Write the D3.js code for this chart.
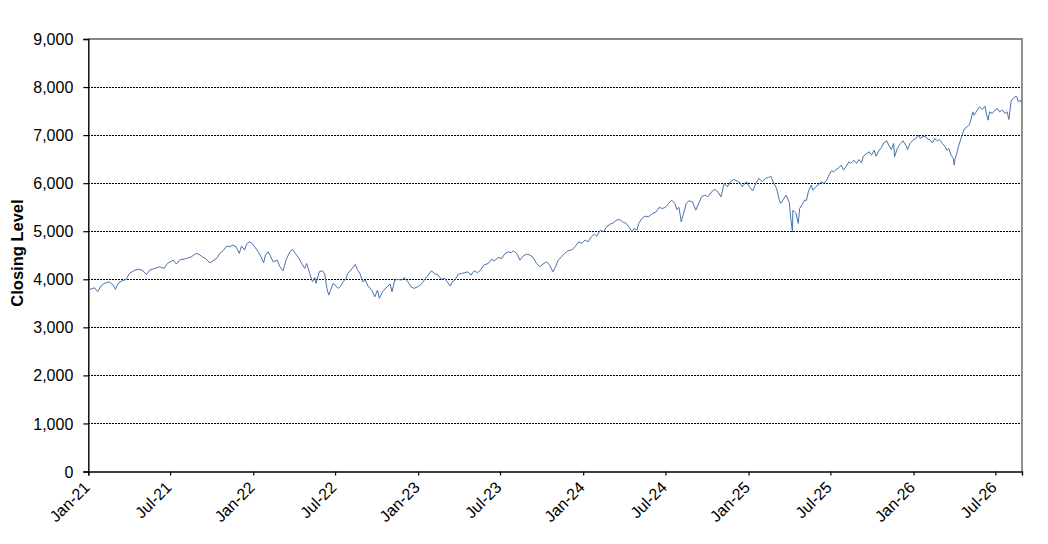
<!DOCTYPE html>
<html>
<head>
<meta charset="utf-8">
<script src="https://cdn.jsdelivr.net/npm/d3@7"></script>
<style>
    body { margin: 0; background: #fff; }
    svg { display: block; font-family: "Liberation Sans", Arial, sans-serif; }
</style>
</head>
<body>
<div id="chart"></div>
<script>
// weekly-ish closing levels, one array per year
var close2021 = [
    ["2021-01-04",3790],["2021-01-08",3800],["2021-01-15",3823],["2021-01-22",3740],["2021-01-29",3860],
    ["2021-02-05",3914],["2021-02-16",3948],["2021-02-25",3879],["2021-03-02",3790],["2021-03-08",3914],
    ["2021-03-15",3962],["2021-03-26",3997],["2021-04-02",4122],["2021-04-14",4191],["2021-04-23",4205],
    ["2021-04-30",4191],["2021-05-10",4101],["2021-05-17",4191],["2021-05-28",4226],["2021-06-08",4260],
    ["2021-06-18",4226],["2021-06-25",4330],["2021-07-08",4399],["2021-07-15",4316],["2021-07-22",4399],
    ["2021-08-06",4434],["2021-08-17",4468],["2021-08-27",4538],["2021-09-03",4520],["2021-09-10",4468],
    ["2021-09-17",4434],["2021-09-27",4343],["2021-10-04",4385],["2021-10-12",4434],["2021-10-19",4538],
    ["2021-10-26",4593],["2021-11-03",4690],["2021-11-10",4676],["2021-11-17",4711],["2021-11-24",4676],
    ["2021-12-01",4538],["2021-12-06",4690],["2021-12-13",4607],["2021-12-17",4732],["2021-12-23",4780],
    ["2021-12-30",4745]
];
var close2022 = [
    ["2022-01-04",4676],["2022-01-12",4572],["2022-01-18",4468],["2022-01-24",4343],["2022-01-28",4503],
    ["2022-02-03",4572],["2022-02-08",4482],["2022-02-14",4364],["2022-02-23",4399],["2022-03-01",4260],
    ["2022-03-08",4177],["2022-03-15",4413],["2022-03-23",4572],["2022-03-29",4621],["2022-04-04",4538],
    ["2022-04-11",4454],["2022-04-18",4330],["2022-04-25",4226],["2022-04-29",4330],["2022-05-06",4122],
    ["2022-05-12",3948],["2022-05-17",4039],["2022-05-20",3914],["2022-05-27",4156],["2022-06-03",4177],
    ["2022-06-08",4110],["2022-06-13",3810],["2022-06-17",3670],["2022-06-21",3775],["2022-06-27",3914],
    ["2022-07-01",3879],["2022-07-08",3810],["2022-07-13",3858],["2022-07-19",3948],["2022-07-25",4018],
    ["2022-07-29",4122],["2022-08-05",4191],["2022-08-15",4309],["2022-08-19",4205],["2022-08-25",4122],
    ["2022-08-31",3948],["2022-09-06",3983],["2022-09-12",3858],["2022-09-20",3775],["2022-09-27",3636],
    ["2022-10-03",3775],["2022-10-07",3602],["2022-10-14",3740],["2022-10-24",3844],["2022-10-31",3900],
    ["2022-11-04",3740],["2022-11-10",3983],["2022-11-17",3997],["2022-11-25",3983],["2022-12-01",4039],
    ["2022-12-09",3948],["2022-12-16",3844],["2022-12-23",3810]
];
var close2023 = [
    ["2023-01-03",3858],["2023-01-09",3914],["2023-01-17",4018],["2023-01-23",4087],["2023-01-30",4177],
    ["2023-02-06",4122],["2023-02-14",4087],["2023-02-21",4000],["2023-03-01",4020],["2023-03-06",3948],
    ["2023-03-13",3858],["2023-03-17",3948],["2023-03-23",3983],["2023-03-31",4108],["2023-04-07",4122],
    ["2023-04-14",4136],["2023-04-21",4156],["2023-04-28",4087],["2023-05-05",4177],["2023-05-12",4136],
    ["2023-05-19",4191],["2023-05-26",4295],["2023-06-05",4330],["2023-06-12",4413],["2023-06-19",4385],
    ["2023-06-27",4455],["2023-07-05",4434],["2023-07-11",4524],["2023-07-19",4572],["2023-07-26",4551],
    ["2023-07-31",4593],["2023-08-08",4524],["2023-08-14",4399],["2023-08-21",4482],["2023-08-29",4524],
    ["2023-09-05",4503],["2023-09-12",4455],["2023-09-20",4330],["2023-09-27",4260],["2023-10-04",4316],
    ["2023-10-12",4364],["2023-10-19",4295],["2023-10-26",4156],["2023-11-01",4260],["2023-11-06",4385],
    ["2023-11-14",4468],["2023-11-21",4538],["2023-11-28",4593],["2023-12-08",4614],["2023-12-15",4690],
    ["2023-12-22",4780],["2023-12-29",4745]
];
var close2024 = [
    ["2024-01-05",4815],["2024-01-12",4780],["2024-01-19",4884],["2024-01-26",4940],["2024-01-31",4898],
    ["2024-02-08",5023],["2024-02-15",4988],["2024-02-22",5092],["2024-03-01",5148],["2024-03-08",5176],
    ["2024-03-15",5231],["2024-03-22",5245],["2024-03-28",5196],["2024-04-05",5162],["2024-04-12",5079],
    ["2024-04-18",4988],["2024-04-23",5058],["2024-04-29",5023],["2024-05-03",5162],["2024-05-10",5266],
    ["2024-05-17",5314],["2024-05-24",5300],["2024-06-03",5370],["2024-06-11",5405],["2024-06-17",5495],
    ["2024-06-24",5474],["2024-07-01",5495],["2024-07-08",5578],["2024-07-15",5647],["2024-07-22",5578],
    ["2024-07-26",5453],["2024-07-31",5495],["2024-08-05",5196],["2024-08-09",5330],["2024-08-16",5578],
    ["2024-08-22",5633],["2024-08-30",5612],["2024-09-06",5439],["2024-09-11",5543],["2024-09-19",5716],
    ["2024-09-26",5750],["2024-10-03",5716],["2024-10-11",5820],["2024-10-18",5869],["2024-10-25",5820],
    ["2024-11-01",5716],["2024-11-08",5994],["2024-11-15",5925],["2024-11-22",6029],["2024-11-29",6077],
    ["2024-12-06",6050],["2024-12-13",6007],["2024-12-18",5925],["2024-12-27",6029]
];
var close2025 = [
    ["2025-01-03",5925],["2025-01-10",5841],["2025-01-17",5994],["2025-01-24",6098],["2025-01-31",6029],
    ["2025-02-07",6098],["2025-02-14",6118],["2025-02-19",6146],["2025-02-26",5994],["2025-03-04",5890],
    ["2025-03-10",5647],["2025-03-13",5578],["2025-03-20",5681],["2025-03-25",5750],["2025-04-01",5600],
    ["2025-04-04",5300],["2025-04-08",4988],["2025-04-09",5439],["2025-04-16",5370],["2025-04-21",5162],
    ["2025-04-24",5474],["2025-04-30",5560],["2025-05-05",5650],["2025-05-09",5640],["2025-05-14",5850],
    ["2025-05-20",5960],["2025-05-23",5855],["2025-05-30",5925],["2025-06-06",5980],["2025-06-11",6029],
    ["2025-06-17",5994],["2025-06-23",6063],["2025-06-27",6146],["2025-07-03",6257],["2025-07-08",6236],
    ["2025-07-14",6285],["2025-07-18",6305],["2025-07-25",6375],["2025-07-30",6271],["2025-08-05",6354],
    ["2025-08-11",6444],["2025-08-15",6410],["2025-08-22",6479],["2025-08-28",6410],["2025-09-02",6493],
    ["2025-09-08",6424],["2025-09-12",6562],["2025-09-19",6617],["2025-09-25",6652],["2025-09-30",6583],
    ["2025-10-06",6687],["2025-10-10",6562],["2025-10-17",6687],["2025-10-22",6742],["2025-10-27",6839],
    ["2025-11-03",6880],["2025-11-07",6790],["2025-11-13",6700],["2025-11-18",6825],["2025-11-20",6548],
    ["2025-11-26",6721],["2025-12-03",6825],["2025-12-09",6880],["2025-12-15",6790],["2025-12-19",6700],
    ["2025-12-24",6825],["2025-12-31",6895]
];
var close2026 = [
    ["2026-01-06",6929],["2026-01-12",6998],["2026-01-16",6929],["2026-01-22",6978],["2026-01-28",6964],
    ["2026-02-02",6908],["2026-02-06",6909],["2026-02-12",6839],["2026-02-17",6929],["2026-02-23",6880],
    ["2026-02-27",6909],["2026-03-06",6825],["2026-03-11",6770],["2026-03-16",6687],["2026-03-20",6721],
    ["2026-03-25",6583],["2026-03-30",6513],["2026-04-01",6375],["2026-04-03",6513],["2026-04-08",6652],
    ["2026-04-10",6756],["2026-04-15",6895],["2026-04-20",7047],["2026-04-24",7134],["2026-04-29",7168],
    ["2026-05-05",7228],["2026-05-08",7325],["2026-05-12",7484],["2026-05-15",7415],["2026-05-21",7505],
    ["2026-05-27",7588],["2026-06-02",7532],["2026-06-08",7602],["2026-06-11",7450],["2026-06-15",7311],
    ["2026-06-18",7484],["2026-06-24",7450],["2026-06-30",7519],["2026-07-06",7553],["2026-07-10",7484],
    ["2026-07-17",7519],["2026-07-22",7450],["2026-07-27",7484],["2026-07-31",7325],["2026-08-05",7712],
    ["2026-08-11",7782],["2026-08-17",7810],["2026-08-21",7692],["2026-08-26",7727],["2026-08-28",7671]
];

var yTicks = [0, 1000, 2000, 3000, 4000, 5000, 6000, 7000, 8000, 9000];
var axisStart = "2021-01-01";
var axisEnd = "2026-08-29";
var yTitle = "Closing Level";

var parseDate = d3.timeParse("%Y-%m-%d");

var data = [].concat(close2021, close2022, close2023, close2024, close2025, close2026)
    .map(function(d) { return { date: parseDate(d[0]), value: d[1] }; });

var width = 1048, height = 544;
// plot area edges (note: "top" is taken by window.top)
var plotLeft = 88.3, plotRight = 1022, plotTop = 39, plotBottom = 471.5;

var svg = d3.select('#chart').append('svg')
    .attr('width', width)
    .attr('height', height);

var x = d3.scaleTime()
    .domain([parseDate(axisStart), parseDate(axisEnd)])
    .range([plotLeft, plotRight]);

var y = d3.scaleLinear()
    .domain([0, 9000])
    .range([plotBottom, plotTop]);

// dotted gridlines
svg.append('g').selectAll('line')
    .data(yTicks.filter(function(t) { return t > 0 && t < 9000; }))
    .enter().append('line')
    .attr('x1', plotLeft)
    .attr('x2', plotRight)
    .attr('y1', function(d) { return Math.round(y(d)) + 0.5; })
    .attr('y2', function(d) { return Math.round(y(d)) + 0.5; })
    .attr('stroke', '#000')
    .attr('stroke-width', 1)
    .attr('stroke-dasharray', '2,1')
    .attr('shape-rendering', 'crispEdges');

// grey plot border on top and right
svg.append('path')
    .attr('d', 'M' + plotLeft + ',' + plotTop + 'H' + plotRight + 'V' + plotBottom)
    .attr('fill', 'none')
    .attr('stroke', '#868686')
    .attr('stroke-width', 1.8);

// the series
var line = d3.line()
    .x(function(d) { return x(d.date); })
    .y(function(d) { return y(d.value); });

svg.append('path')
    .datum(data)
    .attr('d', line)
    .attr('fill', 'none')
    .attr('stroke', '#4a72aa')
    .attr('stroke-width', 1)
    .attr('stroke-linejoin', 'round');

// y axis
var yAxis = svg.append('g')
    .attr('transform', 'translate(' + plotLeft + ',0)')
    .call(d3.axisLeft(y).tickValues(yTicks).tickFormat(d3.format(',')).tickSize(5).tickPadding(10));

yAxis.select('.domain').attr('stroke', '#000').attr('stroke-width', 1.4);
yAxis.selectAll('.tick line').attr('stroke', '#000').attr('stroke-width', 1.2);
yAxis.selectAll('.tick text')
    .attr('fill', '#000')
    .style('font-size', '16px')
    .attr('dy', '0.35em');

// x axis, half-year ticks
var xAxis = svg.append('g')
    .attr('transform', 'translate(0,' + plotBottom + ')')
    .call(d3.axisBottom(x).ticks(d3.timeMonth.every(6)).tickFormat(d3.timeFormat('%b-%y')).tickSize(4));

xAxis.select('.domain').attr('stroke', '#000').attr('stroke-width', 1.4);
xAxis.selectAll('.tick line').attr('stroke', '#000').attr('stroke-width', 1.2);
xAxis.selectAll('.tick text')
    .attr('fill', '#000')
    .style('font-size', '16px')
    .attr('y', 0)
    .attr('dy', 0)
    .attr('text-anchor', 'end')
    .attr('transform', 'translate(2,17) rotate(-45)');

svg.append('text')
    .attr('transform', 'translate(23,253) rotate(-90)')
    .attr('text-anchor', 'middle')
    .style('font-size', '16.5px')
    .style('font-weight', 'bold')
    .text(yTitle);
</script>
</body>
</html>
